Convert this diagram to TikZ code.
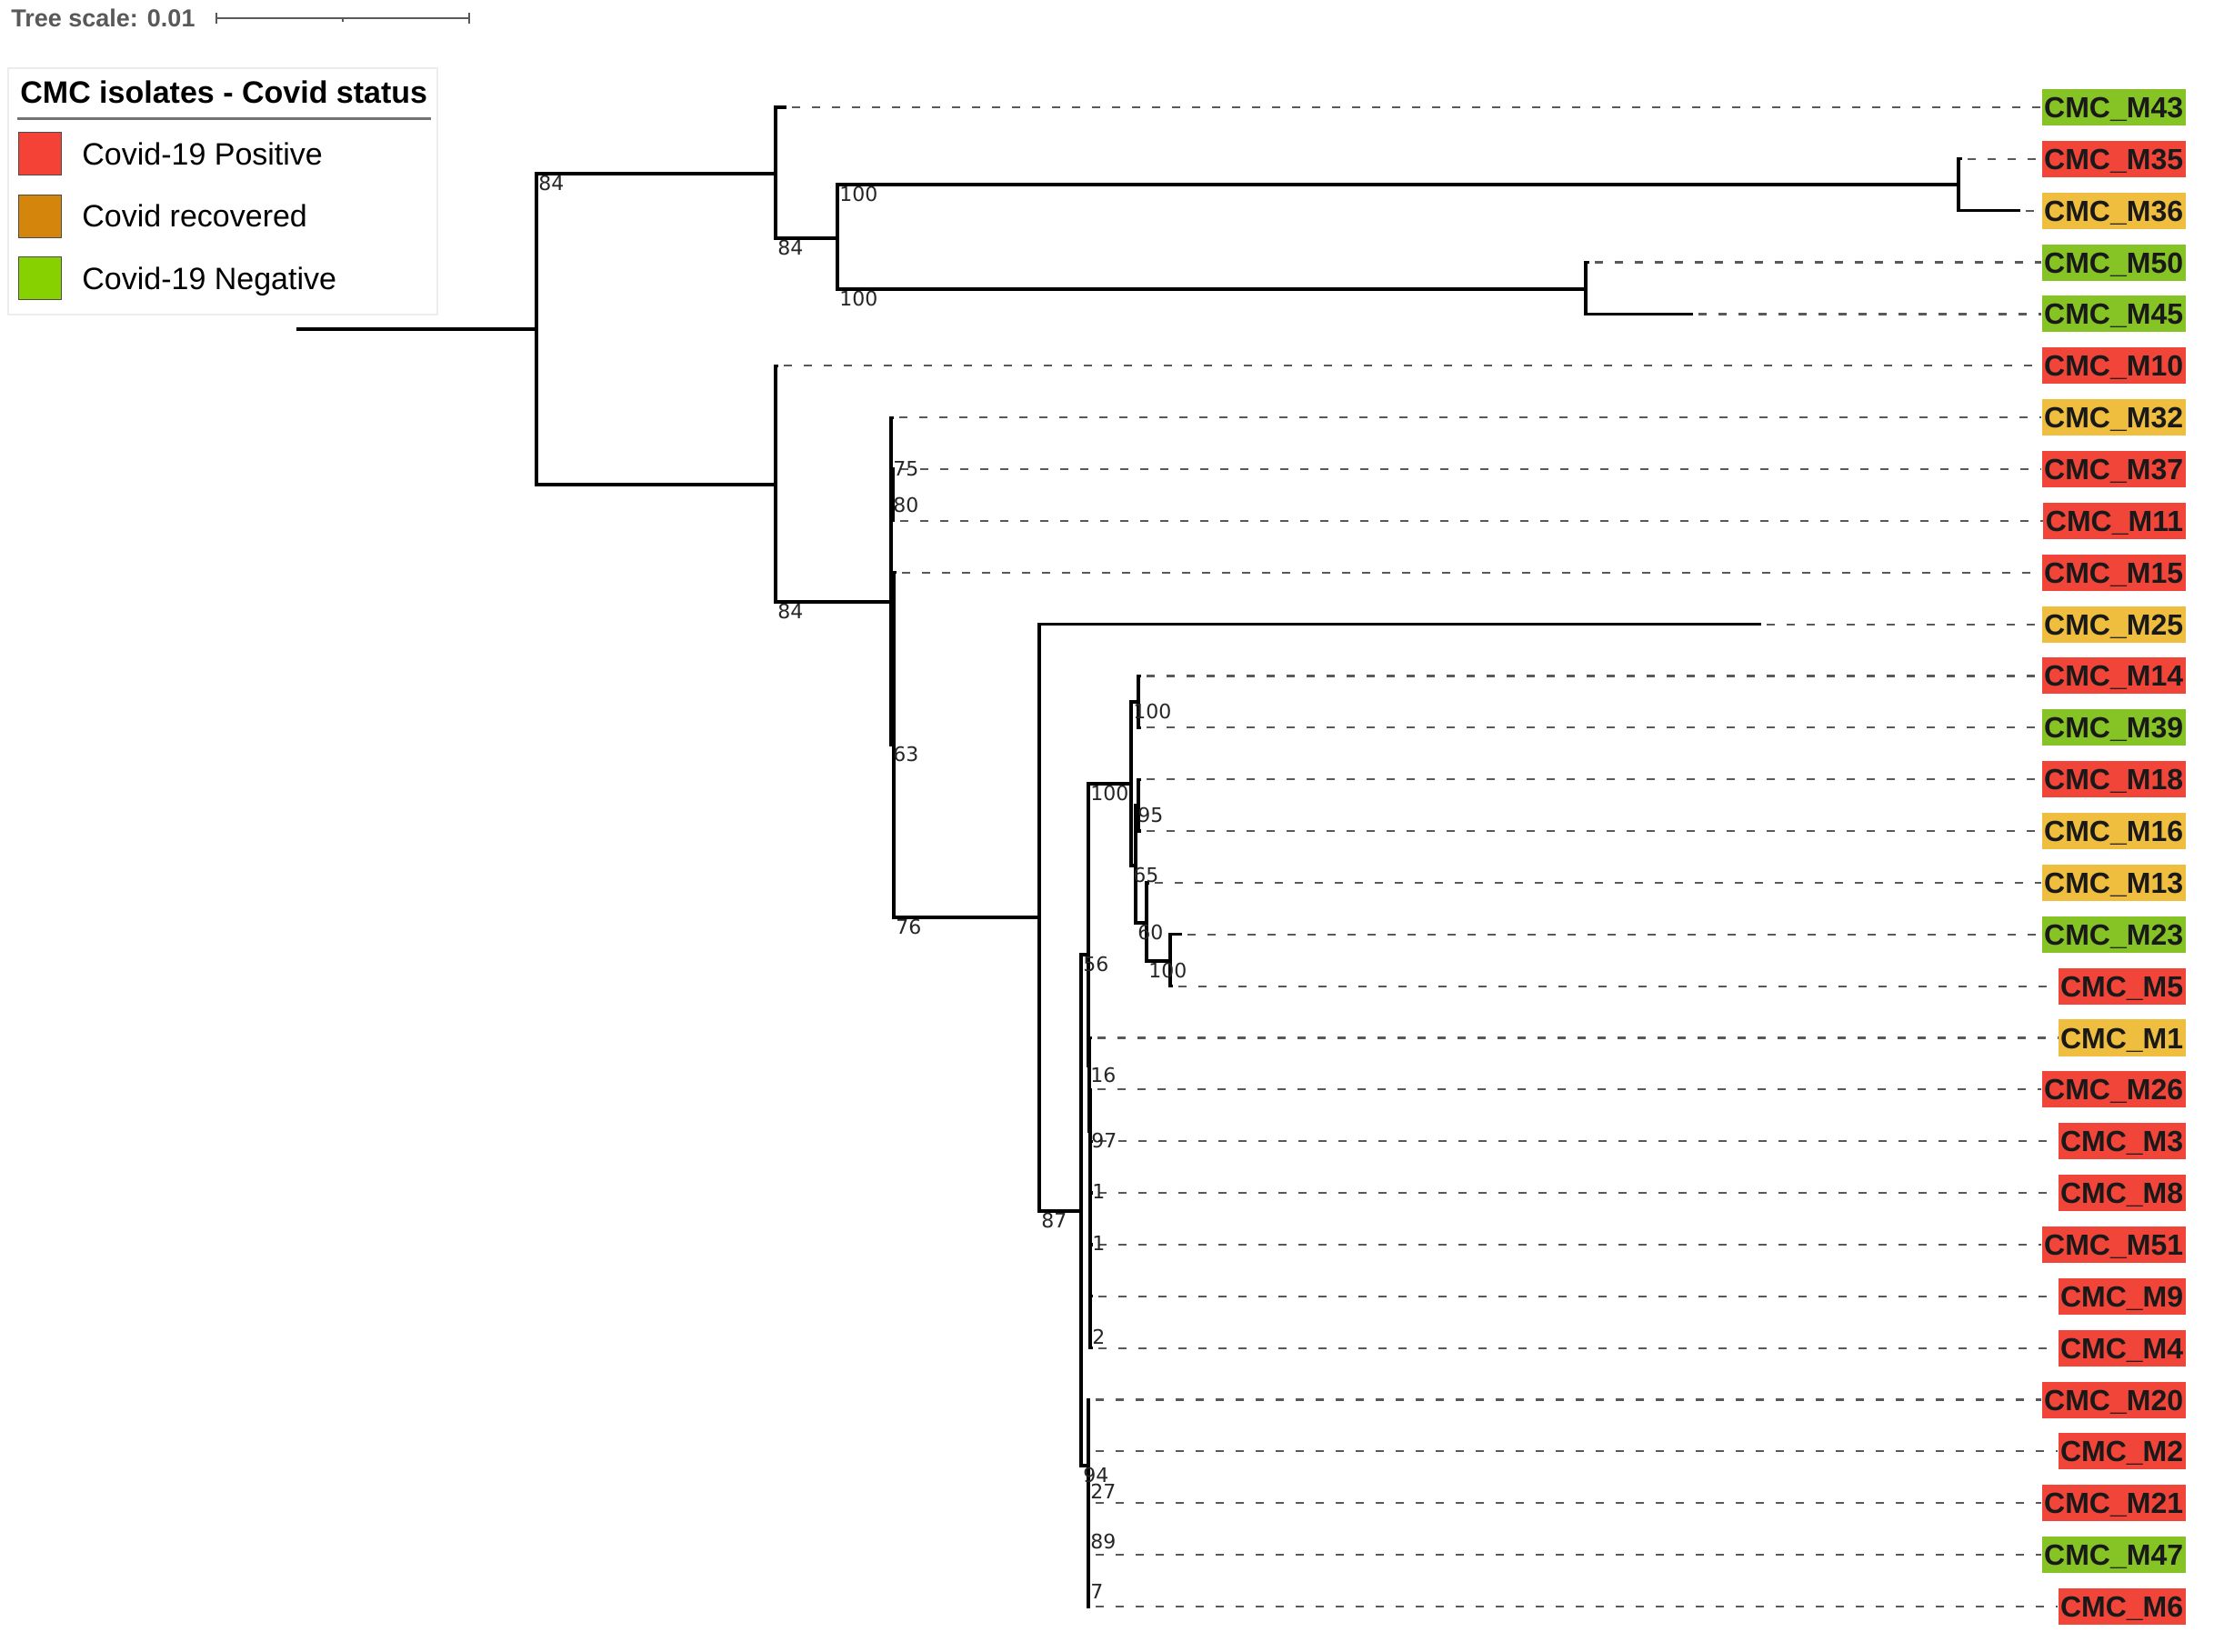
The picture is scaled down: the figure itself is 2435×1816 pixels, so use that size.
\documentclass[tikz,border=0pt]{standalone}
\usepackage{fontspec}
\setmainfont{Liberation Sans}
\newfontfamily\bootfont{DejaVu Sans}
\usepackage{tikz}
\usepackage{xcolor}
\definecolor{posred}{HTML}{F1453A}
\definecolor{recyellow}{HTML}{F0BE3E}
\definecolor{neggreen}{HTML}{86C425}
\definecolor{legred}{HTML}{F44336}
\definecolor{legorange}{HTML}{D3860B}
\definecolor{leggreen}{HTML}{88D100}
\tikzset{
    branch/.style = {draw=black, line width=1.6pt},
    leader-line/.style = {draw=black!65, line width=1.1pt, dash pattern=on 4.5pt off 6.5pt, shorten <=3pt},
    leaf-label/.style = {anchor=east, inner xsep=1.25pt, inner ysep=0pt, minimum height=20pt, text height=11.5pt, text depth=0pt, text=black!90, font=\bfseries\fontsize{16pt}{16pt}\selectfont},
    boot-value/.style = {anchor=north west, inner sep=1pt, text=black!85, font=\bootfont\fontsize{11pt}{11pt}\selectfont},
    legend-box/.style = {draw=black!7, fill=white, line width=1pt},
    legend-swatch/.style = {draw=black!70, line width=0.5pt, minimum size=23.5pt, inner sep=0pt},
    legend-text/.style = {anchor=west, inner sep=0pt, text height=12.2pt, text depth=0pt, font=\fontsize{17pt}{17pt}\selectfont},
    scale-bar/.style = {draw=black!65, line width=1pt},
}

\begin{document}
\begin{tikzpicture}[x=0.5pt, y=-0.5pt]
\fill[white] (0,0) rectangle (2435,1816);
\useasboundingbox (0,0) rectangle (2435,1816);

\node[anchor=west, inner sep=0pt, text=black!65, font=\bfseries\fontsize{13.5pt}{13.5pt}\selectfont] (scale-text) at (12,20) {Tree scale: 0.01};
\coordinate (scale-l) at (238,20);
\coordinate (scale-m) at (377,20);
\coordinate (scale-r) at (516,20);
\draw[scale-bar] (scale-l) -- (scale-r);
\draw[scale-bar] ([yshift=3pt]scale-l) -- ([yshift=-3pt]scale-l);
\draw[scale-bar] ([yshift=3pt]scale-r) -- ([yshift=-3pt]scale-r);
\draw[scale-bar] (scale-m) -- ([yshift=-2pt]scale-m);

\draw[legend-box] (9,75) rectangle (481,346);
\node[legend-text, font=\bfseries\fontsize{17pt}{17pt}\selectfont] (legend-title) at (22,101) {CMC isolates - Covid status};
\draw[black!55, line width=1.5pt] (19,130) -- (474,130);
\foreach \col/\txt [count=\k from 0] in {legred/Covid-19 Positive, legorange/Covid recovered, leggreen/Covid-19 Negative} {
    \node[legend-swatch, fill=\col] (swatch-\k) at (43.5,{169+68.5*\k}) {};
    \node[legend-text] (legend-\k) at (90,{169+68.5*\k}) {\txt};
}

\foreach \leaf/\tipx/\stat [count=\i from 0] in {
    M43/865/neggreen, M35/2158/posred, M36/2222/recyellow, M50/1748/neggreen, M45/1862/neggreen,
    M10/856/posred, M32/983/recyellow, M37/984/posred, M11/984/posred, M15/986/posred,
    M25/1937/recyellow, M14/1255/posred, M39/1255/neggreen, M18/1255/posred, M16/1255/recyellow,
    M13/1264/recyellow, M23/1300/neggreen, M5/1290/posred, M1/1201/recyellow, M26/1201/posred,
    M3/1202/posred, M8/1202/posred, M51/1202/posred, M9/1202/posred, M4/1202/posred,
    M20/1199/posred, M2/1199/posred, M21/1199/posred, M47/1199/neggreen, M6/1199/posred} {
    \coordinate (tip-\leaf) at (\tipx,{118+56.86*\i});
    \node[leaf-label, fill=\stat] (\leaf) at (2404,{118+56.86*\i}) {CMC\_\leaf};
    \draw[leader-line] (tip-\leaf) -- (\leaf.west);
}

\coordinate (root-start) at (326,362);
\coordinate (root) at (590,362);
\coordinate (cA) at (853,191);
\coordinate (cC) at (921,262);
\coordinate (cD) at (2154,203);
\coordinate (cE) at (1744,318);
\coordinate (cB) at (853,533);
\coordinate (cF) at (980,662);
\coordinate (c75) at (980,505);
\coordinate (c80) at (982,545);
\coordinate (c63) at (983,819);
\coordinate (cG) at (1143,1009);
\coordinate (cH) at (1189,1332);
\coordinate (c56) at (1197,1050);
\coordinate (cI) at (1244,862);
\coordinate (cK) at (1252,772);
\coordinate (cM) at (1249,952);
\coordinate (cL) at (1252,886);
\coordinate (cN) at (1261,1015);
\coordinate (cO) at (1287,1057);
\coordinate (q16) at (1198,1172);
\coordinate (q97) at (1199,1244);
\coordinate (q1a) at (1199,1300);
\coordinate (q1b) at (1199,1357);
\coordinate (q2) at (1199,1460);
\coordinate (c94) at (1197,1612);
\coordinate (q27) at (1197,1630);
\coordinate (q89) at (1197,1685);
\coordinate (q7) at (1197,1740);

\draw[branch] (root-start) -- (root);
\foreach \p/\c in {root/cA, root/cB, cA/tip-M43, cA/cC, cC/cD, cC/cE,
    cD/tip-M35, cD/tip-M36, cE/tip-M50, cE/tip-M45, cB/tip-M10, cB/cF,
    cF/c75, cF/c63, c75/tip-M32, c75/c80, c80/tip-M37, c80/tip-M11,
    c63/tip-M15, c63/cG, cG/tip-M25, cG/cH, cH/c56, cH/c94,
    c56/cI, c56/q16, cI/cK, cI/cM, cK/tip-M14, cK/tip-M39,
    cM/cL, cM/cN, cL/tip-M18, cL/tip-M16, cN/tip-M13, cN/cO,
    cO/tip-M23, cO/tip-M5, q16/tip-M1, q16/q97, q97/tip-M26, q97/q1a,
    q1a/tip-M3, q1a/q1b, q1b/tip-M8, q1b/tip-M51, q1b/q2, q2/tip-M9, q2/tip-M4,
    c94/tip-M20, c94/q27, q27/tip-M2, q27/q89, q89/tip-M21, q89/q7,
    q7/tip-M47, q7/tip-M6}
    \draw[branch] (\p) |- (\c);

\foreach \a/\b/\v in {root/cA/84, cA/cC/84, cC/cD/100, cC/cE/100, cB/cF/84,
    cF/c75/75, c75/c80/80, cF/c63/63, c63/cG/76, cG/cH/87, cH/c56/56, cH/c94/94,
    c56/cI/100, cI/cK/100, cI/cM/65, cM/cL/95, cM/cN/60, cN/cO/100,
    c56/q16/16, q16/q97/97, q97/q1a/1, q1a/q1b/1, q1b/q2/2,
    c94/q27/27, q27/q89/89, q89/q7/7}
    \node[boot-value] at (\a |- \b) {\v};
\end{tikzpicture}
\end{document}
